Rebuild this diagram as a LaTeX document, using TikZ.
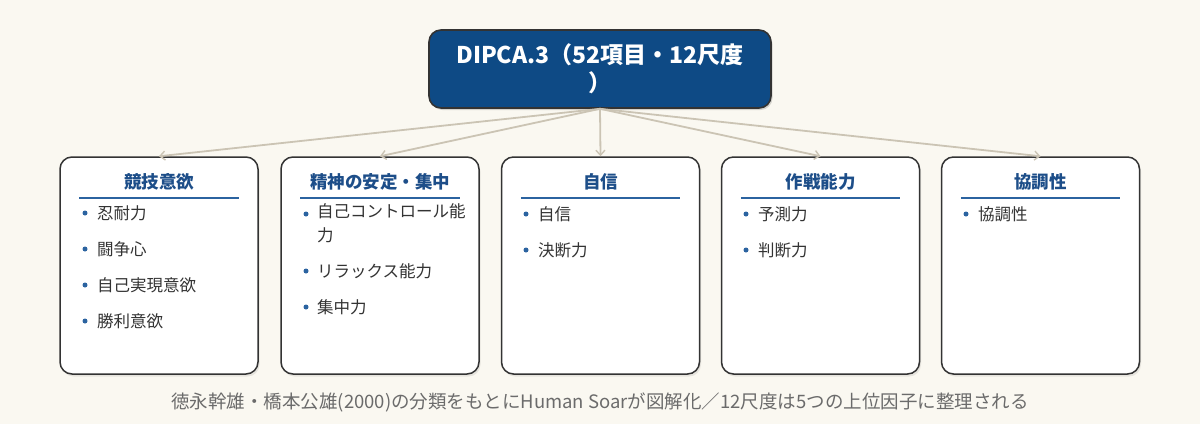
\documentclass[tikz,border=0pt]{standalone}
\usepackage{fontspec}
\setmainfont{Noto Sans CJK JP}
\usetikzlibrary{arrows.meta}
\definecolor{bgc}{HTML}{FAF8F1}
\definecolor{rootc}{HTML}{0E4A85}
\definecolor{titc}{HTML}{1D4E89}
\definecolor{linec}{HTML}{2B63A0}
\definecolor{arrc}{HTML}{CBC4B4}
\definecolor{itemc}{HTML}{333333}
\definecolor{capc}{HTML}{6B6B6B}
\definecolor{bordc}{HTML}{333333}
\tikzset{
  rootbox/.style={draw=bordc, line width=1.6pt, fill=rootc, rounded corners=12pt,
    minimum width=342pt, minimum height=78pt, inner sep=0pt},
  catbox/.style={draw=bordc, line width=1.5pt, fill=white, rounded corners=12pt,
    minimum width=198pt, minimum height=217pt, inner sep=0pt},
  shadowbox/.style={fill=black, fill opacity=0.08, rounded corners=12pt,
    minimum width=198pt, minimum height=217pt, inner sep=0pt, draw=none},
  conn/.style={draw=arrc, line width=1.8pt, -{Straight Barb[length=5pt,width=9pt,line width=1.4pt]}},
  cattitle/.style={font=\fontsize{17.5}{20}\selectfont\bfseries, text=titc, inner sep=0pt},
  catrule/.style={draw=linec, line width=1.8pt},
  itemtext/.style={font=\fontsize{16.5}{24}\selectfont, text=itemc, anchor=west, inner sep=0pt, align=left},
  bulletdot/.style={circle, fill=linec, inner sep=0pt, minimum size=5pt},
  captext/.style={font=\fontsize{18.5}{20}\selectfont, text=capc, inner sep=0pt}
}
\begin{document}
\begin{tikzpicture}[x=1pt,y=-1pt]
\fill[bgc] (0,0) rectangle (1200,424);
\useasboundingbox (0,0) rectangle (1200,424);
% root
\node[rootbox, fill=black, fill opacity=0.15, draw=none] at (601.5,71) {};
\node[rootbox, align=center, text=white, font=\fontsize{23}{28}\selectfont\bfseries] (root) at (600,69) {DIPCA.3（52項目・12尺度\\）};
% boxes
\foreach \cx/\nm in {159/b1,380/b2,600.5/b3,820.5/b4,1040.5/b5}{
  \node[shadowbox] at (\cx+1.5,268) {};
  \node[catbox] (\nm) at (\cx,265.5) {};
}
% connectors
\draw[conn] (root.south) -- (b1.north);
\draw[conn] (root.south) -- (b2.north);
\draw[conn] (root.south) -- (b3.north);
\draw[conn] (root.south) -- (b4.north);
\draw[conn] (root.south) -- (b5.north);
% titles and rules
\node[cattitle] (t1) at (159,182) {競技意欲};
\node[cattitle] (t2) at (380,182) {精神の安定・集中};
\node[cattitle] (t3) at (600.5,182) {自信};
\node[cattitle] (t4) at (820.5,182) {作戦能力};
\node[cattitle] (t5) at (1040.5,182) {協調性};
\foreach \nm in {b1,b2,b3,b4,b5}{
  \draw[catrule] ([xshift=20pt]\nm.west |- 0,198) -- ([xshift=-20pt]\nm.east |- 0,198);
}
% items box1
\node[bulletdot] (d11) at (85,213) {}; \node[itemtext] (i11) at (97,213) {忍耐力};
\node[bulletdot] (d12) at (85,249) {}; \node[itemtext] (i12) at (97,249) {闘争心};
\node[bulletdot] (d13) at (85,285) {}; \node[itemtext] (i13) at (97,285) {自己実現意欲};
\node[bulletdot] (d14) at (85,321) {}; \node[itemtext] (i14) at (97,321) {勝利意欲};
% items box2
\node[bulletdot] (d21) at (306,214) {}; \node[itemtext, anchor=north west] (i21) at (317,203) {自己コントロール能\\力};
\node[bulletdot] (d22) at (306,271) {}; \node[itemtext] (i22) at (317,271) {リラックス能力};
\node[bulletdot] (d23) at (306,307) {}; \node[itemtext] (i23) at (317,307) {集中力};
% items box3
\node[bulletdot] (d31) at (526,214) {}; \node[itemtext] (i31) at (538,214) {自信};
\node[bulletdot] (d32) at (526,250) {}; \node[itemtext] (i32) at (538,250) {決断力};
% items box4
\node[bulletdot] (d41) at (746,214) {}; \node[itemtext] (i41) at (758,214) {予測力};
\node[bulletdot] (d42) at (746,250) {}; \node[itemtext] (i42) at (758,250) {判断力};
% items box5
\node[bulletdot] (d51) at (966,214) {}; \node[itemtext] (i51) at (978,214) {協調性};
% caption
\node[captext] (capn) at (600,402) {徳永幹雄・橋本公雄(2000)の分類をもとにHuman Soarが図解化／12尺度は5つの上位因子に整理される};
\end{tikzpicture}
\end{document}
